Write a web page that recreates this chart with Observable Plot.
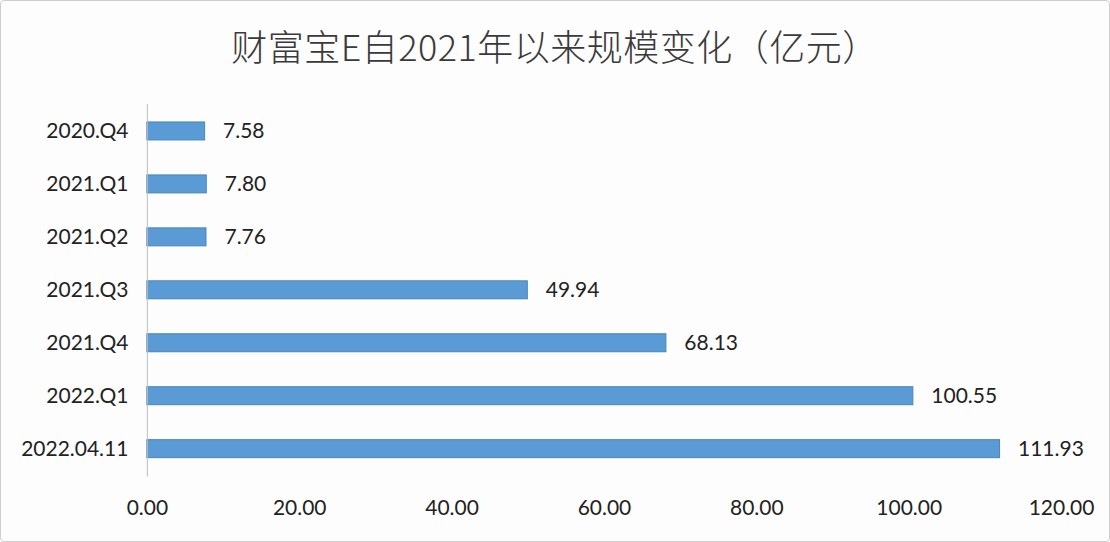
<!DOCTYPE html>
<html>
<head>
<meta charset="utf-8">
<script src="https://cdn.jsdelivr.net/npm/d3@7"></script>
<script src="https://cdn.jsdelivr.net/npm/@observablehq/plot@0.6"></script>
<style>
  html, body { margin: 0; padding: 0; background: #fff; }
  #wrap {
    width: 1110px; height: 542px; box-sizing: border-box;
    border: 1px solid #cfcfcf; border-radius: 4px; background: #fdfdfd;
    position: relative; overflow: hidden;
  }
  #title {
    position: absolute; left: 0; top: 0; width: 100%; height: 80px;
    text-align: center; line-height: 88px;
    font-family: "Noto Sans CJK SC", sans-serif; font-size: 36px; font-weight: 300;
    color: #3a3a3a; letter-spacing: 0.5px;
  }
  #chart { position: absolute; left: -1px; top: 79px; }
</style>
</head>
<body>
<div id="wrap">
  <div id="title">财富宝E自2021年以来规模变化（亿元）</div>
  <div id="chart"></div>
</div>
<script>
const categories = ["2020.Q4", "2021.Q1", "2021.Q2", "2021.Q3", "2021.Q4", "2022.Q1", "2022.04.11"];
const values = [7.58, 7.80, 7.76, 49.94, 68.13, 100.55, 111.93];
const xTicks = [0, 20, 40, 60, 80, 100, 120];

const data = categories.map((c, i) => ({category: c, value: values[i]}));
const font = "Lato, 'Open Sans', sans-serif";

const chart = Plot.plot({
  width: 1110,
  height: 463,
  marginTop: 24,
  marginBottom: 66,
  marginLeft: 147,
  marginRight: 48,
  style: {fontFamily: font, fontSize: "21px", color: "#222", background: "transparent"},
  x: {domain: [0, 120], ticks: xTicks, tickFormat: d => d.toFixed(2), label: null},
  y: {domain: categories, paddingInner: 0.66, paddingOuter: 0.33, label: null},
  marks: [
    Plot.axisX({ticks: xTicks, tickFormat: d => d.toFixed(2), tickSize: 0, tickPadding: 23, fontSize: 21, fill: "#222", label: null}),
    Plot.axisY({tickSize: 0, tickPadding: 19, fontSize: 21, fill: "#222", label: null}),
    Plot.barX(data, {x: "value", y: "category", fill: "#5b9bd5", stroke: "#4a84bd", strokeWidth: 1}),
    Plot.ruleX([0], {stroke: "#bdbdbd", strokeWidth: 1}),
    Plot.text(data, {x: "value", y: "category", text: d => d.value.toFixed(2), textAnchor: "start", dx: 18, fontSize: 21, fill: "#222"})
  ]
});
document.getElementById("chart").appendChild(chart);
</script>
</body>
</html>
